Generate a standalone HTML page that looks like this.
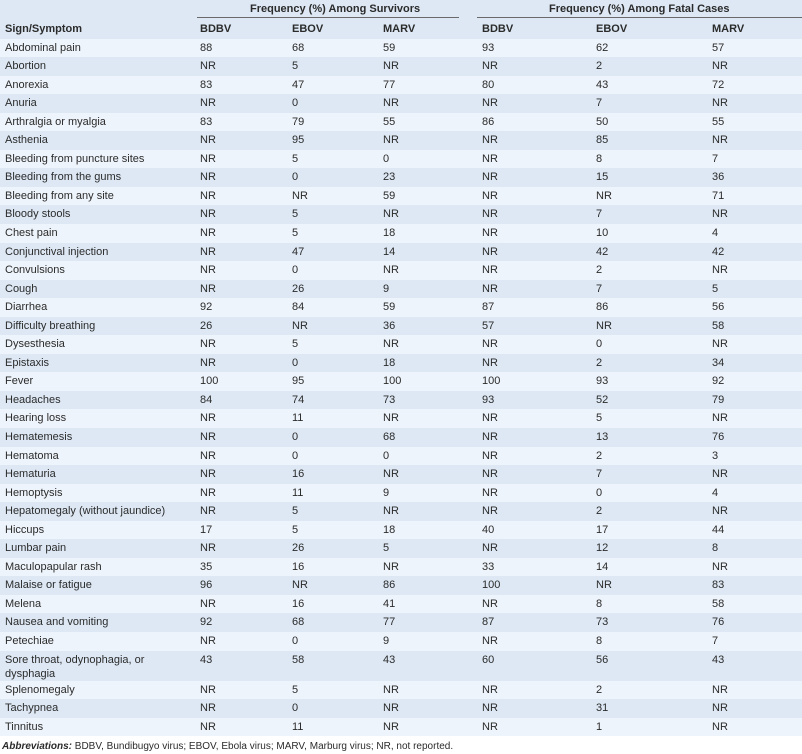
<!DOCTYPE html>
<html>
<head>
<meta charset="utf-8">
<style>
html,body{margin:0;padding:0;background:#fff;}
body{width:802px;height:754px;position:relative;overflow:hidden;font-family:"Liberation Sans",sans-serif;font-size:11px;color:#2b2b2b;}
.hdr{position:absolute;left:0;top:0;width:802px;height:38.5px;background:#dde8f4;}
.hdr div{position:absolute;font-weight:bold;white-space:nowrap;}
.rule{position:absolute;height:1px;background:#6a6a6a;top:17px;}
.body{position:absolute;left:0;top:38.5px;width:802px;}
.r{position:relative;height:18.55px;line-height:18.55px;white-space:nowrap;}
.r:nth-child(odd){background:#eef4fb;}
.r:nth-child(even){background:#dde8f4;}
.r span{position:absolute;top:0;}
.c0{left:5px}.c1{left:200px}.c2{left:292px}.c3{left:383px}.c4{left:482px}.c5{left:596px}.c6{left:712px}
.r.dbl{height:30px;}
.r.dbl .c0{line-height:14px;top:2px;}
.foot{position:absolute;left:2px;top:740px;font-size:10px;line-height:13px;white-space:nowrap;color:#2b2b2b;}
.foot b{font-style:italic;}
</style>
</head>
<body>
<div class="hdr">
  <div style="left:250px;top:2px;line-height:14px;">Frequency (%) Among Survivors</div>
  <div style="left:549px;top:2px;line-height:14px;">Frequency (%) Among Fatal Cases</div>
  <div class="rule" style="left:197px;width:262px;position:absolute;"></div>
  <div class="rule" style="left:477px;width:325px;position:absolute;"></div>
  <div style="left:5px;top:22px;line-height:14px;">Sign/Symptom</div>
  <div style="left:200px;top:22px;line-height:14px;">BDBV</div>
  <div style="left:292px;top:22px;line-height:14px;">EBOV</div>
  <div style="left:383px;top:22px;line-height:14px;">MARV</div>
  <div style="left:482px;top:22px;line-height:14px;">BDBV</div>
  <div style="left:596px;top:22px;line-height:14px;">EBOV</div>
  <div style="left:712px;top:22px;line-height:14px;">MARV</div>
</div>
<div class="body">
<div class="r"><span class="c0">Abdominal pain</span><span class="c1">88</span><span class="c2">68</span><span class="c3">59</span><span class="c4">93</span><span class="c5">62</span><span class="c6">57</span></div>
<div class="r"><span class="c0">Abortion</span><span class="c1">NR</span><span class="c2">5</span><span class="c3">NR</span><span class="c4">NR</span><span class="c5">2</span><span class="c6">NR</span></div>
<div class="r"><span class="c0">Anorexia</span><span class="c1">83</span><span class="c2">47</span><span class="c3">77</span><span class="c4">80</span><span class="c5">43</span><span class="c6">72</span></div>
<div class="r"><span class="c0">Anuria</span><span class="c1">NR</span><span class="c2">0</span><span class="c3">NR</span><span class="c4">NR</span><span class="c5">7</span><span class="c6">NR</span></div>
<div class="r"><span class="c0">Arthralgia or myalgia</span><span class="c1">83</span><span class="c2">79</span><span class="c3">55</span><span class="c4">86</span><span class="c5">50</span><span class="c6">55</span></div>
<div class="r"><span class="c0">Asthenia</span><span class="c1">NR</span><span class="c2">95</span><span class="c3">NR</span><span class="c4">NR</span><span class="c5">85</span><span class="c6">NR</span></div>
<div class="r"><span class="c0">Bleeding from puncture sites</span><span class="c1">NR</span><span class="c2">5</span><span class="c3">0</span><span class="c4">NR</span><span class="c5">8</span><span class="c6">7</span></div>
<div class="r"><span class="c0">Bleeding from the gums</span><span class="c1">NR</span><span class="c2">0</span><span class="c3">23</span><span class="c4">NR</span><span class="c5">15</span><span class="c6">36</span></div>
<div class="r"><span class="c0">Bleeding from any site</span><span class="c1">NR</span><span class="c2">NR</span><span class="c3">59</span><span class="c4">NR</span><span class="c5">NR</span><span class="c6">71</span></div>
<div class="r"><span class="c0">Bloody stools</span><span class="c1">NR</span><span class="c2">5</span><span class="c3">NR</span><span class="c4">NR</span><span class="c5">7</span><span class="c6">NR</span></div>
<div class="r"><span class="c0">Chest pain</span><span class="c1">NR</span><span class="c2">5</span><span class="c3">18</span><span class="c4">NR</span><span class="c5">10</span><span class="c6">4</span></div>
<div class="r"><span class="c0">Conjunctival injection</span><span class="c1">NR</span><span class="c2">47</span><span class="c3">14</span><span class="c4">NR</span><span class="c5">42</span><span class="c6">42</span></div>
<div class="r"><span class="c0">Convulsions</span><span class="c1">NR</span><span class="c2">0</span><span class="c3">NR</span><span class="c4">NR</span><span class="c5">2</span><span class="c6">NR</span></div>
<div class="r"><span class="c0">Cough</span><span class="c1">NR</span><span class="c2">26</span><span class="c3">9</span><span class="c4">NR</span><span class="c5">7</span><span class="c6">5</span></div>
<div class="r"><span class="c0">Diarrhea</span><span class="c1">92</span><span class="c2">84</span><span class="c3">59</span><span class="c4">87</span><span class="c5">86</span><span class="c6">56</span></div>
<div class="r"><span class="c0">Difficulty breathing</span><span class="c1">26</span><span class="c2">NR</span><span class="c3">36</span><span class="c4">57</span><span class="c5">NR</span><span class="c6">58</span></div>
<div class="r"><span class="c0">Dysesthesia</span><span class="c1">NR</span><span class="c2">5</span><span class="c3">NR</span><span class="c4">NR</span><span class="c5">0</span><span class="c6">NR</span></div>
<div class="r"><span class="c0">Epistaxis</span><span class="c1">NR</span><span class="c2">0</span><span class="c3">18</span><span class="c4">NR</span><span class="c5">2</span><span class="c6">34</span></div>
<div class="r"><span class="c0">Fever</span><span class="c1">100</span><span class="c2">95</span><span class="c3">100</span><span class="c4">100</span><span class="c5">93</span><span class="c6">92</span></div>
<div class="r"><span class="c0">Headaches</span><span class="c1">84</span><span class="c2">74</span><span class="c3">73</span><span class="c4">93</span><span class="c5">52</span><span class="c6">79</span></div>
<div class="r"><span class="c0">Hearing loss</span><span class="c1">NR</span><span class="c2">11</span><span class="c3">NR</span><span class="c4">NR</span><span class="c5">5</span><span class="c6">NR</span></div>
<div class="r"><span class="c0">Hematemesis</span><span class="c1">NR</span><span class="c2">0</span><span class="c3">68</span><span class="c4">NR</span><span class="c5">13</span><span class="c6">76</span></div>
<div class="r"><span class="c0">Hematoma</span><span class="c1">NR</span><span class="c2">0</span><span class="c3">0</span><span class="c4">NR</span><span class="c5">2</span><span class="c6">3</span></div>
<div class="r"><span class="c0">Hematuria</span><span class="c1">NR</span><span class="c2">16</span><span class="c3">NR</span><span class="c4">NR</span><span class="c5">7</span><span class="c6">NR</span></div>
<div class="r"><span class="c0">Hemoptysis</span><span class="c1">NR</span><span class="c2">11</span><span class="c3">9</span><span class="c4">NR</span><span class="c5">0</span><span class="c6">4</span></div>
<div class="r"><span class="c0">Hepatomegaly (without jaundice)</span><span class="c1">NR</span><span class="c2">5</span><span class="c3">NR</span><span class="c4">NR</span><span class="c5">2</span><span class="c6">NR</span></div>
<div class="r"><span class="c0">Hiccups</span><span class="c1">17</span><span class="c2">5</span><span class="c3">18</span><span class="c4">40</span><span class="c5">17</span><span class="c6">44</span></div>
<div class="r"><span class="c0">Lumbar pain</span><span class="c1">NR</span><span class="c2">26</span><span class="c3">5</span><span class="c4">NR</span><span class="c5">12</span><span class="c6">8</span></div>
<div class="r"><span class="c0">Maculopapular rash</span><span class="c1">35</span><span class="c2">16</span><span class="c3">NR</span><span class="c4">33</span><span class="c5">14</span><span class="c6">NR</span></div>
<div class="r"><span class="c0">Malaise or fatigue</span><span class="c1">96</span><span class="c2">NR</span><span class="c3">86</span><span class="c4">100</span><span class="c5">NR</span><span class="c6">83</span></div>
<div class="r"><span class="c0">Melena</span><span class="c1">NR</span><span class="c2">16</span><span class="c3">41</span><span class="c4">NR</span><span class="c5">8</span><span class="c6">58</span></div>
<div class="r"><span class="c0">Nausea and vomiting</span><span class="c1">92</span><span class="c2">68</span><span class="c3">77</span><span class="c4">87</span><span class="c5">73</span><span class="c6">76</span></div>
<div class="r"><span class="c0">Petechiae</span><span class="c1">NR</span><span class="c2">0</span><span class="c3">9</span><span class="c4">NR</span><span class="c5">8</span><span class="c6">7</span></div>
<div class="r dbl"><span class="c0">Sore throat, odynophagia, or<br>dysphagia</span><span class="c1">43</span><span class="c2">58</span><span class="c3">43</span><span class="c4">60</span><span class="c5">56</span><span class="c6">43</span></div>
<div class="r"><span class="c0">Splenomegaly</span><span class="c1">NR</span><span class="c2">5</span><span class="c3">NR</span><span class="c4">NR</span><span class="c5">2</span><span class="c6">NR</span></div>
<div class="r"><span class="c0">Tachypnea</span><span class="c1">NR</span><span class="c2">0</span><span class="c3">NR</span><span class="c4">NR</span><span class="c5">31</span><span class="c6">NR</span></div>
<div class="r"><span class="c0">Tinnitus</span><span class="c1">NR</span><span class="c2">11</span><span class="c3">NR</span><span class="c4">NR</span><span class="c5">1</span><span class="c6">NR</span></div>
</div>
<div class="foot"><b>Abbreviations:</b> BDBV, Bundibugyo virus; EBOV, Ebola virus; MARV, Marburg virus; NR, not reported.</div>
</body>
</html>
